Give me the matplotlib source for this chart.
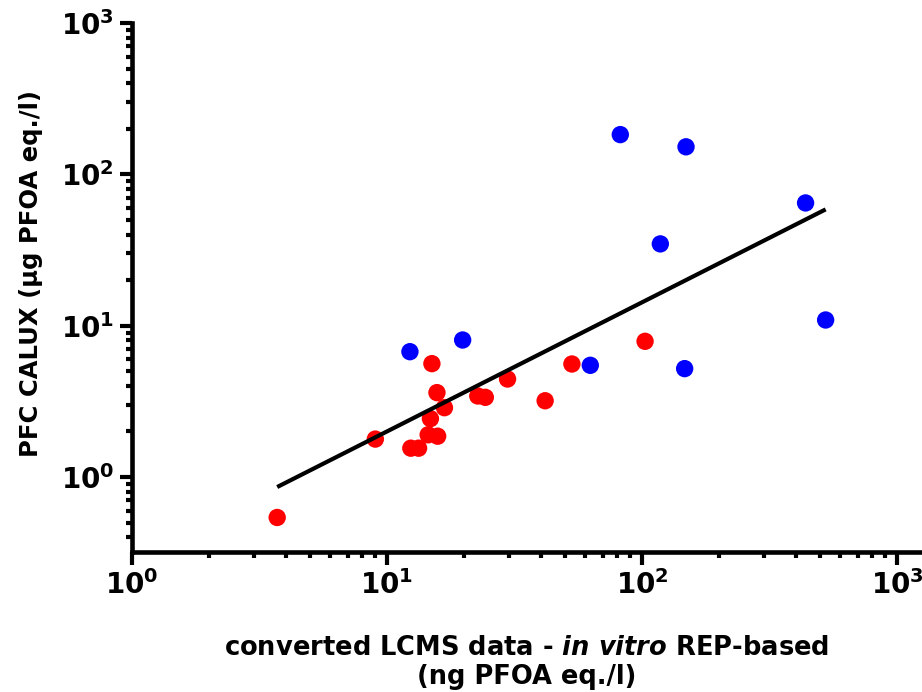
import numpy as np
import matplotlib
matplotlib.use("Agg")
import matplotlib.pyplot as plt
from matplotlib.ticker import FixedLocator, FixedFormatter, LogLocator, NullFormatter

# ---- data ----
red_x = [3.71, 9.0, 12.4, 13.3, 14.5, 15.8, 14.8, 16.8, 15.7, 15.0, 22.7, 24.3, 29.7, 41.7, 53.1, 102.8]
red_y = [0.54, 1.78, 1.55, 1.55, 1.90, 1.86, 2.43, 2.87, 3.61, 5.61, 3.43, 3.36, 4.44, 3.19, 5.58, 7.88]
blue_x = [12.3, 19.8, 62.7, 82.2, 148.8, 118, 438, 525, 147]
blue_y = [6.73, 8.04, 5.47, 183, 152, 34.7, 64.7, 10.9, 5.2]
fit_slope = 0.853        # log10(y) = slope*log10(x) + intercept
fit_intercept = -0.552
x_ticks = [1, 10, 100, 1000]
x_tick_labels = [r"$\mathbf{10^{0}}$", r"$\mathbf{10^{1}}$", r"$\mathbf{10^{2}}$", r"$\mathbf{10^{3}}$"]
y_ticks = [1, 10, 100, 1000]
y_tick_labels = [r"$\mathbf{10^{0}}$", r"$\mathbf{10^{1}}$", r"$\mathbf{10^{2}}$", r"$\mathbf{10^{3}}$"]
x_label = r"converted LCMS data - $\mathit{in\ vitro}$ REP-based"
x_label2 = "(ng PFOA eq./l)"
y_label = "PFC CALUX (µg PFOA eq./l)"

plt.rcParams['font.family'] = ['DejaVu Sans']
plt.rcParams['font.weight'] = 'bold'
plt.rcParams['mathtext.fontset'] = 'custom'
plt.rcParams['mathtext.rm'] = 'DejaVu Sans:bold'
plt.rcParams['mathtext.bf'] = 'DejaVu Sans:bold'
plt.rcParams['mathtext.it'] = 'DejaVu Sans:italic:bold'

W, H = 922, 692
fig = plt.figure(figsize=(W / 100, H / 100), dpi=100)
left, right, top, bottom = 132, 921, 23, 552
ax = fig.add_axes([left / W, 1 - bottom / H, (right - left) / W, (bottom - top) / H])
ax.set_xscale('log')
ax.set_yscale('log')
ax.set_xlim(1, 10 ** ((right - left) / 255.0))
ax.set_ylim(10 ** (-(bottom - 477) / 151.3), 1000)

ax.scatter(red_x, red_y, s=12.5 ** 2, color='#ff0000', edgecolors='none', zorder=3, clip_on=False)
ax.scatter(blue_x, blue_y, s=12.5 ** 2, color='#0000ff', edgecolors='none', zorder=3, clip_on=False)

all_x = np.array(red_x + blue_x)
fx = np.array([all_x.min(), all_x.max()])
fy = 10 ** (fit_slope * np.log10(fx) + fit_intercept)
ax.plot(fx, fy, color='black', lw=3.0, zorder=4, solid_capstyle='butt')

for s in ['top', 'right']:
    ax.spines[s].set_visible(False)
for s in ['left', 'bottom']:
    ax.spines[s].set_linewidth(3.3)

ax.xaxis.set_major_locator(FixedLocator(x_ticks))
ax.xaxis.set_major_formatter(FixedFormatter(x_tick_labels))
ax.yaxis.set_major_locator(FixedLocator(y_ticks))
ax.yaxis.set_major_formatter(FixedFormatter(y_tick_labels))
ax.xaxis.set_minor_locator(LogLocator(base=10, subs=np.arange(2, 10), numticks=20))
ax.yaxis.set_minor_locator(LogLocator(base=10, subs=np.arange(2, 10), numticks=20))
ax.xaxis.set_minor_formatter(NullFormatter())
ax.yaxis.set_minor_formatter(NullFormatter())
ax.tick_params(which='major', direction='out', length=9, width=3.0, labelsize=20, pad=4)
ax.tick_params(which='minor', direction='out', length=4.5, width=3.0)

fig.text(527 / W, 1 - 655 / H, x_label, ha='center', va='baseline', fontsize=18.5, fontweight='bold')
fig.text(527 / W, 1 - 684 / H, x_label2, ha='center', va='baseline', fontsize=18.5, fontweight='bold')
fig.text(31 / W, 1 - 274 / H, y_label, ha='center', va='center', rotation=90, fontsize=17.5, fontweight='bold')

fig.savefig('out.png', dpi=100)
